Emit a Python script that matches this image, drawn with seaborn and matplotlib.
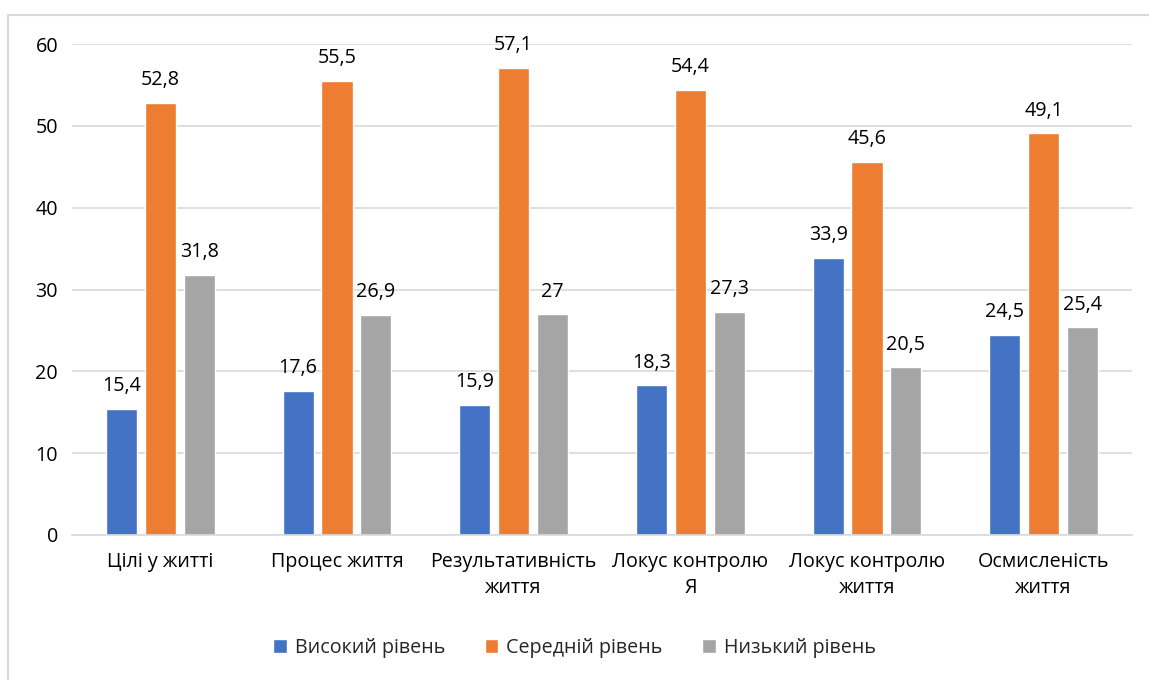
import pandas as pd
import numpy as np
import matplotlib.pyplot as plt
import seaborn as sns
from matplotlib.patches import Rectangle

# data
categories = ['Цілі у житті', 'Процес життя', 'Результативність\nжиття',
              'Локус контролю\nЯ', 'Локус контролю\nжиття', 'Осмисленість\nжиття']
levels = ['Високий рівень', 'Середній рівень', 'Низький рівень']
high = [15.4, 17.6, 15.9, 18.3, 33.9, 24.5]
mid = [52.8, 55.5, 57.1, 54.4, 45.6, 49.1]
low = [31.8, 26.9, 27, 27.3, 20.5, 25.4]
colors = ['#4472C4', '#ED7D31', '#A5A5A5']

rows = []
for i, c in enumerate(categories):
    for lev, vals in zip(levels, [high, mid, low]):
        rows.append({'cat': c, 'level': lev, 'value': vals[i]})
df = pd.DataFrame(rows)

sns.set_style('white')
plt.rcParams['font.family'] = ['Open Sans', 'DejaVu Sans']
fs = 14.2

fig = plt.figure(figsize=(11.49, 6.80), dpi=100)
ax = fig.add_axes([72/1149, 1-535/680, (1132-72)/1149, (535-44)/680])

sns.barplot(data=df, x='cat', y='value', hue='level', palette=colors,
            width=0.66, gap=0.2, ax=ax, legend=True, errorbar=None,
            saturation=1)

for cont in ax.containers:
    labels = [('%g' % v).replace('.', ',') for v in cont.datavalues]
    ax.bar_label(cont, labels=labels, padding=9, fontsize=fs, color='#000000')

ax.set_ylim(0, 60)
ax.set_yticks(range(0, 61, 10))
ax.set_xlim(-0.5, len(categories) - 0.5)
ax.yaxis.grid(True, color='#d9d9d9', linewidth=1.2)
ax.set_axisbelow(True)
for s in ['top', 'right', 'left']:
    ax.spines[s].set_visible(False)
ax.spines['bottom'].set_color('#d9d9d9')
ax.spines['bottom'].set_linewidth(1.2)
ax.tick_params(axis='both', length=0, labelsize=fs, colors='#000000')
ax.tick_params(axis='y', pad=10)
ax.tick_params(axis='x', pad=12)
for t in ax.get_xticklabels():
    t.set_linespacing(1.45)
ax.set_xlabel('')
ax.set_ylabel('')

handles, labs = ax.get_legend_handles_labels()
ax.get_legend().remove()
fig.legend(handles, labs, loc='center', bbox_to_anchor=(0.5, 1-648/680), ncol=3,
           frameon=False, fontsize=fs, handlelength=0.7, handleheight=0.7,
           handletextpad=0.4, columnspacing=2.0)

# outer chart border
fig.patches.append(Rectangle((8/1149, -0.1), 1.2, 1-15/680+0.1,
                             transform=fig.transFigure, fill=False,
                             edgecolor='#d9d9d9', linewidth=1.5))

fig.savefig('out.png', dpi=100, facecolor='white')
